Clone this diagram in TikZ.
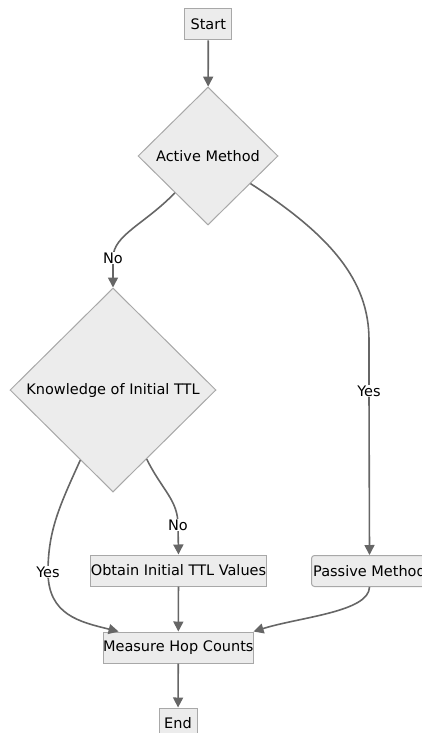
\documentclass[tikz,border=0pt]{standalone}
\usepackage{fontspec}
\setmainfont{DejaVu Sans}
\usetikzlibrary{shapes.geometric,arrows.meta}
\definecolor{boxfill}{HTML}{ECECEC}
\definecolor{boxline}{HTML}{A8A8A8}
\definecolor{edgeline}{HTML}{666666}
\begin{document}
\begin{tikzpicture}[x=1pt,y=-1pt,
    every node/.style={font=\fontsize{14.5}{17}\selectfont},
    box/.style={draw=boxline,fill=boxfill,line width=1pt,inner sep=0pt,minimum height=31pt},
    decision/.style={diamond,draw=boxline,fill=boxfill,line width=1pt,inner sep=0pt},
    edge/.style={draw=edgeline,line width=1.6pt,-{Triangle[length=10pt,width=10pt]}},
    lbl/.style={fill=white,inner sep=1pt}]
  \useasboundingbox (0,0) rectangle (421,733);

  % Drawing the boxes
  \node [box,minimum width=47pt] (start) at (208.3,24.5) {Start};
  \node [box,minimum width=176pt] (obtain) at (178.5,570.5) {Obtain Initial TTL Values};
  \node [box,minimum width=116pt,rounded corners=3pt] (passive) at (369.5,571) {Passive Method};
  \node [box,minimum width=149pt] (measure) at (178.3,647.5) {Measure Hop Counts};
  \node [box,minimum width=38pt] (end) at (178,723.5) {End};

  % Drawing the decisions
  \node [decision,minimum width=140pt,minimum height=138pt] (active) at (208,156) {Active Method};
  \node [decision,minimum width=206pt,minimum height=204pt] (knowledge) at (113,390) {Knowledge of Initial TTL};

  % Drawing edges
  \draw [edge] (start) -- (active);
  \draw [edge] (active.228) .. controls (145,224) and (113,235) .. (113,258) node [lbl] (no1) {No} -- (knowledge.north);
  \draw [edge] (active.327) .. controls (330,235) and (369,280) .. (369,340) -- (369,391) node [lbl] (yes1) {Yes} -- (passive.north);
  \draw [edge] (knowledge.245) .. controls (60,505) and (48,530) .. (48,572) node [lbl] (yes2) {Yes} .. controls (48,615) and (80,622) .. (measure.165);
  \draw [edge] (knowledge.296) .. controls (162,490) and (178,500) .. (178,525) node [lbl] (no2) {No} -- (obtain.north);
  \draw [edge] (obtain) -- (measure);
  \draw [edge] (passive.south) .. controls (369,612) and (300,617) .. (measure.12);
  \draw [edge] (measure) -- (end);
\end{tikzpicture}
\end{document}
